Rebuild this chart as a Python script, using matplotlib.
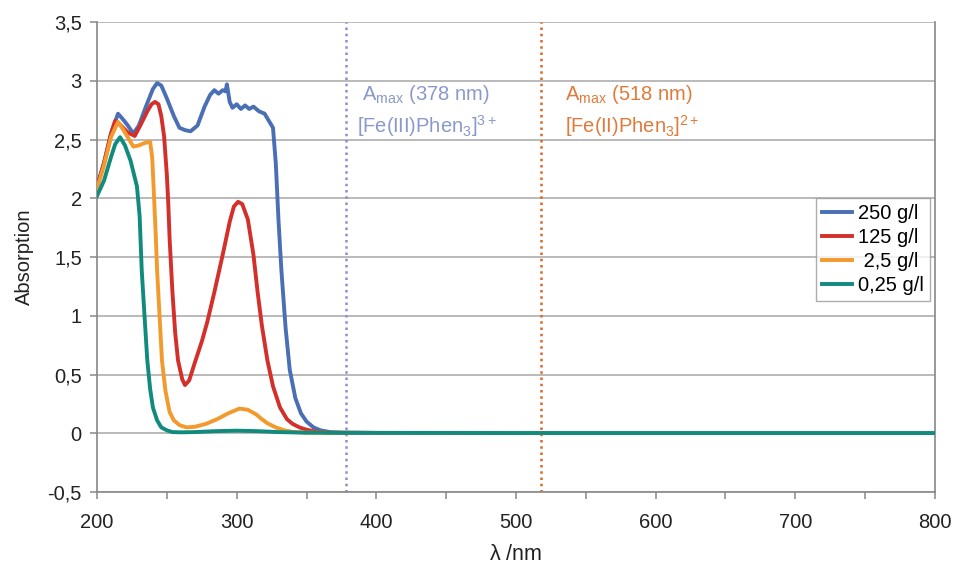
import matplotlib
matplotlib.use("Agg")
import matplotlib.pyplot as plt
from matplotlib.ticker import MultipleLocator, FuncFormatter

plt.rcParams['font.family'] = ['Liberation Sans', 'DejaVu Sans']
plt.rcParams['mathtext.fontset'] = 'custom'
plt.rcParams['mathtext.rm'] = 'Liberation Sans'
plt.rcParams['mathtext.it'] = 'Liberation Sans'

# values (wavelength in nm, absorption)
wl_250 = [200, 205, 210, 215, 218, 222, 226, 230, 235, 240, 243, 246, 250, 255, 259, 263, 267,
          272, 277, 281, 284, 287, 290, 292, 293, 295, 297, 300, 303, 306, 309, 312, 316, 320,
          323, 326, 328, 330, 332, 335, 338, 342, 346, 350, 355, 360, 367, 375, 400, 500, 600, 700, 800]
a_250 = [2.10, 2.30, 2.55, 2.72, 2.68, 2.62, 2.55, 2.62, 2.78, 2.93, 2.98, 2.96, 2.85, 2.70, 2.60, 2.58, 2.57,
         2.62, 2.78, 2.88, 2.92, 2.89, 2.92, 2.91, 2.97, 2.82, 2.77, 2.80, 2.76, 2.79, 2.76, 2.78, 2.74, 2.72,
         2.66, 2.60, 2.30, 1.80, 1.39, 0.90, 0.54, 0.30, 0.17, 0.10, 0.05, 0.025, 0.01, 0.005, 0.003, 0.003, 0.002, 0.002, 0.002]

wl_125 = [200, 205, 210, 213, 217, 222, 227, 231, 236, 239, 241.5, 244, 246, 248, 250, 251, 252, 254,
          256, 258, 261, 263, 266, 270, 275, 279, 284, 290, 295, 298, 301, 304, 308, 312, 315, 318,
          322, 326, 331, 336, 340, 345, 350, 356, 365, 400, 500, 600, 700, 800]
a_125 = [2.10, 2.30, 2.55, 2.66, 2.62, 2.56, 2.53, 2.62, 2.74, 2.80, 2.82, 2.80, 2.70, 2.53, 2.20, 1.96, 1.65, 1.20,
         0.85, 0.62, 0.46, 0.41, 0.45, 0.60, 0.78, 0.95, 1.20, 1.52, 1.80, 1.93, 1.97, 1.95, 1.82, 1.52, 1.20, 0.92,
         0.62, 0.40, 0.22, 0.12, 0.08, 0.05, 0.03, 0.015, 0.005, 0.003, 0.002, 0.002, 0.002, 0.002]

wl_25 = [200, 205, 210, 215, 219, 223, 226, 230, 234, 238, 239.5, 240.5, 242, 243, 245, 246.5, 249,
         252, 255, 259, 264, 270, 278, 286, 294, 302, 308, 314, 318, 322, 328, 334, 340, 350, 400, 500, 600, 700, 800]
a_25 = [2.08, 2.28, 2.52, 2.65, 2.58, 2.50, 2.44, 2.45, 2.47, 2.48, 2.35, 2.10, 1.70, 1.39, 0.95, 0.62, 0.36,
        0.18, 0.11, 0.07, 0.05, 0.055, 0.08, 0.12, 0.17, 0.21, 0.20, 0.16, 0.12, 0.085, 0.05, 0.025, 0.012, 0.005, 0.003, 0.002, 0.002, 0.002, 0.002]

wl_025 = [200, 205, 210, 213, 216.5, 220, 224, 228.6, 230.5, 232, 234, 236, 238, 240, 243, 246, 250, 254,
          260, 270, 285, 300, 315, 330, 350, 400, 500, 600, 700, 800]
a_025 = [2.02, 2.15, 2.35, 2.46, 2.52, 2.45, 2.32, 2.10, 1.85, 1.39, 1.00, 0.62, 0.38, 0.22, 0.11, 0.05, 0.025, 0.01,
         0.008, 0.01, 0.018, 0.022, 0.018, 0.01, 0.005, 0.003, 0.002, 0.002, 0.002, 0.002]

series = [(wl_250, a_250, '250 g/l', '#4a6fb5'),
          (wl_125, a_125, '125 g/l', '#d3302c'),
          (wl_25, a_25, ' 2,5 g/l', '#f29a2e'),
          (wl_025, a_025, '0,25 g/l', '#108b7d')]

lam_fe3 = 378
lam_fe2 = 518

fs = 14.5

fig = plt.figure(figsize=(9.55, 5.69), dpi=100)
ax = fig.add_axes([0.1016, 0.1353, 0.8774, 0.826])

ax.axvline(lam_fe3, color='#8a8fd0', ls=(0, (1, 1.5)), lw=1.8, zorder=1)
ax.axvline(lam_fe2, color='#d8692a', ls=(0, (1, 1.5)), lw=1.8, zorder=1)

for wl, a, lab, col in series:
    ax.plot(wl, a, color=col, lw=2.8, label=lab, zorder=3)

ax.set_xlim(200, 800)
ax.set_ylim(-0.5, 3.5)
ax.xaxis.set_major_locator(MultipleLocator(100))
ax.xaxis.set_minor_locator(MultipleLocator(50))
ax.yaxis.set_major_locator(MultipleLocator(0.5))
ax.yaxis.set_major_formatter(FuncFormatter(lambda v, p: ('%g' % v).replace('.', ',')))

ax.grid(axis='y', color='#b4b4b4', lw=1.3, zorder=0)
ax.set_axisbelow(True)
for s in ['left', 'bottom', 'right']:
    ax.spines[s].set_color('#888888')
    ax.spines[s].set_linewidth(1.2)
ax.spines['top'].set_visible(False)

ax.tick_params(axis='both', which='both', direction='out', length=5, color='#888888',
               labelsize=fs, labelcolor='#222222', width=1.1)
ax.tick_params(axis='x', pad=10)
ax.tick_params(axis='y', pad=6)

ax.set_ylabel('Absorption', fontsize=fs, color='#222222', labelpad=10)
ax.set_xlabel(r'$\lambda$ /nm', fontsize=fs + 1, color='#222222', labelpad=9)

ax.text(0.316, 0.845, r'A$_{\mathrm{max}}$ (378 nm)', transform=ax.transAxes,
        color='#8b98cc', fontsize=fs, ha='left', va='center')
ax.text(0.31, 0.778, r'[Fe(III)Phen$_3$]$^{3+}$', transform=ax.transAxes,
        color='#8b98cc', fontsize=fs, ha='left', va='center')
ax.text(0.558, 0.845, r'A$_{\mathrm{max}}$ (518 nm)', transform=ax.transAxes,
        color='#e07a3a', fontsize=fs, ha='left', va='center')
ax.text(0.558, 0.778, r'[Fe(II)Phen$_3$]$^{2+}$', transform=ax.transAxes,
        color='#e07a3a', fontsize=fs, ha='left', va='center')

leg = ax.legend(loc='upper right', bbox_to_anchor=(0.994, 0.626), fontsize=fs, frameon=True,
                fancybox=False, edgecolor='#999999', handlelength=1.5, handletextpad=0.3,
                borderpad=0.3, labelspacing=0.25, borderaxespad=0)
leg.get_frame().set_linewidth(1.0)

fig.savefig('out.png', dpi=100)
